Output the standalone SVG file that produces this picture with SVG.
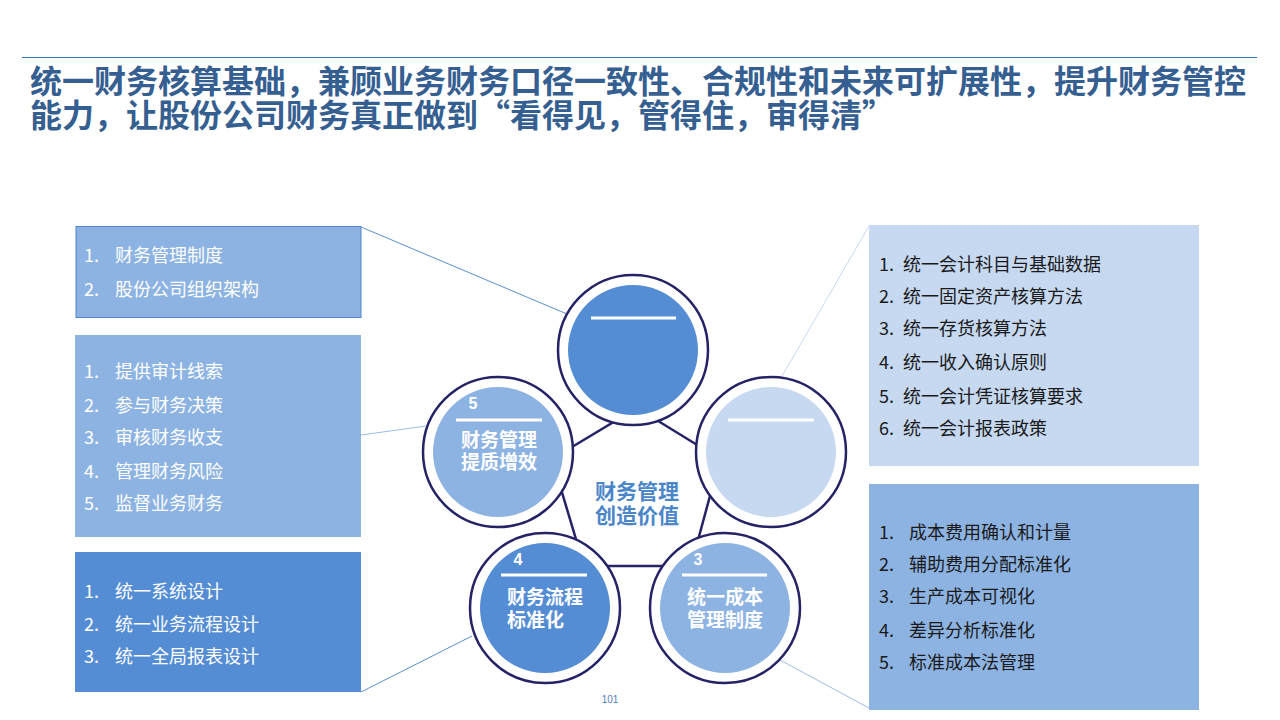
<svg xmlns="http://www.w3.org/2000/svg" width="1280" height="720" viewBox="0 0 1280 720">
<style>
.title{font-family:"Noto Sans CJK SC","Microsoft YaHei",sans-serif;font-weight:bold;font-size:32px;fill:#365F91}
.item{font-family:"Noto Sans CJK SC",sans-serif;font-size:18px}
.w{fill:#ffffff}
.k{fill:#1a1a1a}
.ring{fill:#ffffff;stroke:#232366;stroke-width:2.5}
.bar{stroke:#ffffff;stroke-width:3}
.num{font-family:"Liberation Sans",sans-serif;font-weight:bold;font-size:16px;fill:#ffffff;text-anchor:middle}
.lab{font-family:"Noto Sans CJK SC",sans-serif;font-weight:bold;font-size:19px;fill:#ffffff}
.conn{fill:none;stroke-width:1}
</style>
<rect width="1280" height="720" fill="#ffffff"/>
<line x1="22" y1="57.5" x2="1257" y2="57.5" stroke="#2E75B6" stroke-width="1.2"/>
<text class="title" x="30" y="93">统一财务核算基础，兼顾业务财务口径一致性、合规性和未来可扩展性，提升财务管控</text>
<text class="title" x="30" y="127">能力，让股份公司财务真正做到“看得见，管得住，审得清”</text>

<g id="connectors">
<line class="conn" x1="361" y1="227" x2="567" y2="314" stroke="#5B8FD0"/>
<line class="conn" x1="361" y1="435" x2="426" y2="426" stroke="#9DBDE6"/>
<line class="conn" x1="361" y1="692" x2="472" y2="636" stroke="#5B8FD0"/>
<line class="conn" x1="869" y1="226" x2="781" y2="378" stroke="#C6D9F1"/>
<line class="conn" x1="869" y1="708" x2="780" y2="660" stroke="#9DBDE6"/>
<polygon points="637,408 720,459 691,566 584,566 552,459" fill="none" stroke="#232366" stroke-width="2.5"/>
</g>

<g id="box-left-1">
<rect x="76" y="226.5" width="285" height="91" fill="#8DB3E2" stroke="#4F86CC" stroke-width="1"/>
<text class="item w" x="84" y="262">1.</text><text class="item w" x="115" y="262">财务管理制度</text>
<text class="item w" x="84" y="296">2.</text><text class="item w" x="115" y="296">股份公司组织架构</text>
</g>

<g id="box-left-2">
<rect x="75" y="335" width="286" height="202" fill="#8DB3E2"/>
<text class="item w" x="84" y="378">1.</text><text class="item w" x="115" y="378">提供审计线索</text>
<text class="item w" x="84" y="412">2.</text><text class="item w" x="115" y="412">参与财务决策</text>
<text class="item w" x="84" y="444">3.</text><text class="item w" x="115" y="444">审核财务收支</text>
<text class="item w" x="84" y="478">4.</text><text class="item w" x="115" y="478">管理财务风险</text>
<text class="item w" x="84" y="510">5.</text><text class="item w" x="115" y="510">监督业务财务</text>
</g>

<g id="box-left-3">
<rect x="75" y="552" width="286" height="140" fill="#548DD4"/>
<text class="item w" x="84" y="598">1.</text><text class="item w" x="115" y="598">统一系统设计</text>
<text class="item w" x="84" y="631">2.</text><text class="item w" x="115" y="631">统一业务流程设计</text>
<text class="item w" x="84" y="663">3.</text><text class="item w" x="115" y="663">统一全局报表设计</text>
</g>

<g id="box-right-1">
<rect x="869" y="225" width="330" height="241" fill="#C6D9F1"/>
<text class="item k" x="879" y="271">1.</text><text class="item k" x="903" y="271">统一会计科目与基础数据</text>
<text class="item k" x="879" y="303">2.</text><text class="item k" x="903" y="303">统一固定资产核算方法</text>
<text class="item k" x="879" y="335">3.</text><text class="item k" x="903" y="335">统一存货核算方法</text>
<text class="item k" x="879" y="369">4.</text><text class="item k" x="903" y="369">统一收入确认原则</text>
<text class="item k" x="879" y="403">5.</text><text class="item k" x="903" y="403">统一会计凭证核算要求</text>
<text class="item k" x="879" y="435">6.</text><text class="item k" x="903" y="435">统一会计报表政策</text>
</g>

<g id="box-right-2">
<rect x="869" y="484" width="330" height="226" fill="#8DB3E2"/>
<text class="item k" x="879" y="539">1.</text><text class="item k" x="909" y="539">成本费用确认和计量</text>
<text class="item k" x="879" y="571">2.</text><text class="item k" x="909" y="571">辅助费用分配标准化</text>
<text class="item k" x="879" y="603">3.</text><text class="item k" x="909" y="603">生产成本可视化</text>
<text class="item k" x="879" y="637">4.</text><text class="item k" x="909" y="637">差异分析标准化</text>
<text class="item k" x="879" y="669">5.</text><text class="item k" x="909" y="669">标准成本法管理</text>
</g>

<g id="center-label">
<text x="637" y="499" text-anchor="middle" font-family="Noto Sans CJK SC, sans-serif" font-weight="bold" font-size="21" fill="#4A86C8">财务管理</text>
<text x="637" y="523" text-anchor="middle" font-family="Noto Sans CJK SC, sans-serif" font-weight="bold" font-size="21" fill="#4A86C8">创造价值</text>
</g>

<g id="circle-1">
<circle class="ring" cx="633" cy="350" r="75"/>
<circle cx="633" cy="350" r="65" fill="#548DD4"/>
<line class="bar" x1="591" y1="318" x2="676" y2="318"/>
</g>

<g id="circle-2">
<circle class="ring" cx="771" cy="452" r="75"/>
<circle cx="771" cy="452" r="65" fill="#C6D9F1"/>
<line class="bar" x1="728" y1="420" x2="814" y2="420"/>
</g>

<g id="circle-5">
<circle class="ring" cx="498" cy="452" r="75"/>
<circle cx="498" cy="452" r="65" fill="#8DB3E2"/>
<text class="num" x="473" y="409">5</text>
<line class="bar" x1="456" y1="420" x2="542" y2="420"/>
<text class="lab" x="461" y="447">财务管理</text>
<text class="lab" x="461" y="469">提质增效</text>
</g>

<g id="circle-4">
<circle class="ring" cx="545" cy="608" r="75"/>
<circle cx="545" cy="608" r="65" fill="#548DD4"/>
<text class="num" x="518" y="565">4</text>
<line class="bar" x1="501" y1="575" x2="587" y2="575"/>
<text class="lab" x="507" y="604">财务流程</text>
<text class="lab" x="507" y="627">标准化</text>
</g>

<g id="circle-3">
<circle class="ring" cx="725" cy="608" r="75"/>
<circle cx="725" cy="608" r="65" fill="#8DB3E2"/>
<text class="num" x="698" y="565">3</text>
<line class="bar" x1="682" y1="575" x2="767" y2="575"/>
<text class="lab" x="687" y="604">统一成本</text>
<text class="lab" x="687" y="627">管理制度</text>
</g>

<text x="610" y="703" text-anchor="middle" font-family="Liberation Sans, sans-serif" font-size="10" fill="#4F81BD">101</text>
</svg>
